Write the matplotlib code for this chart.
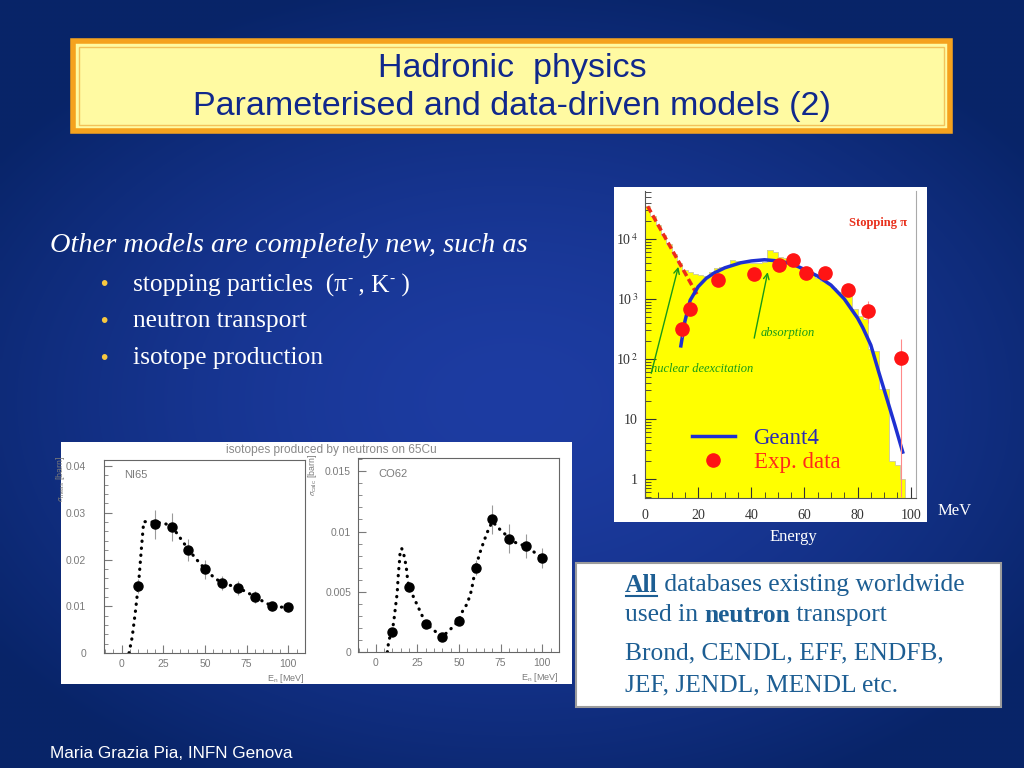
import numpy as np
import matplotlib
matplotlib.use('Agg')
import matplotlib.pyplot as plt
from matplotlib.patches import Rectangle
from matplotlib.ticker import MultipleLocator, LogLocator, NullFormatter, FuncFormatter

plt.rcParams['font.family'] = ['Liberation Sans', 'DejaVu Sans']
plt.rcParams['mathtext.fontset'] = 'stix'
SERIF = ['Liberation Serif', 'DejaVu Serif']

W, H = 1024, 768

# ---- stopping pi- : energy spectrum (log scale) ----
hist_edges = np.arange(0, 100, 2)
hist_counts = [35000, 24000, 17000, 11700, 8100, 5600, 3900, 3000, 2800, 2600,
               2500, 2400, 2800, 3300, 3400, 3600, 4500, 4300, 3900, 3900,
               4000, 4000, 4200, 6500, 6000, 5000, 4800, 4000, 3600, 3200,
               2700, 2500, 2200, 2000, 1800, 1500, 1300, 1200, 1100, 680,
               520, 460, 145, 135, 32, 32, 2, 1.7, 1]
deexc_x = [1, 20]
deexc_y = [35000, 1100]
g4_x = [13.5, 15, 17, 20, 23, 26, 30, 36, 40, 45, 50, 55, 60, 65, 70, 75, 80, 82, 85, 88, 91, 94, 97]
g4_y = [165, 420, 950, 1600, 2200, 2700, 3300, 4000, 4300, 4500, 4300, 3900, 3100, 2400, 1700,
        1000, 480, 330, 170, 60, 22, 8, 2.8]
exp_x = [13.8, 17.0, 27.3, 40.9, 50.6, 55.8, 60.6, 67.8, 76.4, 83.9, 96.5]
exp_y = [310, 670, 2100, 2600, 3700, 4500, 2700, 2700, 1400, 630, 105]
exp_lo = [230, 520, 1700, 2200, 3100, 3800, 2300, 2300, 1100, 400, 0.5]
exp_hi = [400, 850, 2600, 3100, 4400, 5300, 3200, 3200, 1800, 930, 215]

# ---- isotopes produced by neutrons on 65Cu ----
ni_x = [10, 20, 30, 40, 50, 60, 70, 80, 90, 100]
ni_y = [0.0143, 0.0275, 0.0269, 0.0220, 0.0179, 0.0149, 0.0139, 0.0120, 0.0100, 0.0098]
ni_err = [0.0015, 0.003, 0.003, 0.0024, 0.002, 0.0015, 0.0015, 0.0012, 0.001, 0.001]
ni_calc_x = [4.5, 6.4, 8.4, 10.4, 12, 13.3, 15, 20, 25, 30, 35, 40, 45, 50, 55, 60, 65, 70,
             75, 80, 85, 90, 95, 100]
ni_calc_y = [0, 0.0034, 0.0091, 0.0156, 0.0227, 0.0281, 0.0281, 0.028, 0.0278, 0.0272, 0.0247,
             0.0222, 0.02, 0.018, 0.0163, 0.015, 0.0145, 0.014, 0.013, 0.0121, 0.011, 0.0101,
             0.0098, 0.0099]

co_x = [10, 20, 30, 40, 50, 60, 70, 80, 90, 100]
co_y = [0.0017, 0.0054, 0.0023, 0.00125, 0.0026, 0.0070, 0.0110, 0.0094, 0.0088, 0.0078]
co_err = [0.0003, 0.0004, 0.0003, 0.0002, 0.0003, 0.0006, 0.0012, 0.0012, 0.001, 0.0008]
co_calc_x = [7.1, 8, 10, 11, 12.2, 13, 13.7, 14.3, 14.7, 15.7, 17.1, 18.4, 19, 20, 25, 30, 35,
             40, 45, 50, 52.5, 55, 57.5, 60, 62.5, 65, 67.5, 70, 72.5, 75, 77.5, 80, 85, 90,
             95, 100]
co_calc_y = [0, 0.001, 0.0017, 0.0026, 0.004, 0.0049, 0.0065, 0.0074, 0.0082, 0.0086, 0.008,
             0.0071, 0.0063, 0.0054, 0.0039, 0.0024, 0.0018, 0.00125, 0.0019, 0.0026, 0.0035,
             0.004, 0.0051, 0.007, 0.0082, 0.0092, 0.0101, 0.0108, 0.0105, 0.0101, 0.0098,
             0.0094, 0.009, 0.0088, 0.0083, 0.0078]

bullets = ['stopping particles  (\u03c0', 'neutron transport', 'isotope production']


def px(x0, y0, x1, y1):
    return [x0 / W, 1 - y1 / H, (x1 - x0) / W, (y1 - y0) / H]


fig = plt.figure(figsize=(W / 100, H / 100), dpi=100)
bg = fig.add_axes([0, 0, 1, 1])
bg.set_xlim(0, W)
bg.set_ylim(H, 0)
bg.axis('off')

# slide background: blue radial gradient
yy, xx = np.mgrid[0:H:4, 0:W:4]
r = np.clip(np.sqrt(((xx - 512) / 640) ** 2 + ((yy - 400) / 430) ** 2), 0, 1)
c_in = np.array([0x1d, 0x3c, 0xa2]) / 255
c_out = np.array([0x08, 0x24, 0x68]) / 255
bg.imshow(c_in + (c_out - c_in) * r[..., None] ** 1.6, extent=(0, W, H, 0),
          aspect='auto', interpolation='bilinear', zorder=0)

# title box
bg.add_patch(Rectangle((73, 41), 877, 90, facecolor='#fffaa2', edgecolor='#f5a21e', lw=4, zorder=2))
bg.add_patch(Rectangle((79, 47), 865, 78, fill=False, edgecolor='#f3c25a', lw=1, zorder=3))
bg.text(512, 69, 'Hadronic  physics', ha='center', va='center', fontsize=24.5, color='#10288c', zorder=4)
bg.text(512, 107, 'Parameterised and data-driven models (2)', ha='center', va='center',
        fontsize=24.5, color='#10288c', zorder=4)

renderer = fig.canvas.get_renderer()


def runs(x, y, parts, **kw):
    # write text pieces one after the other on the same line
    out = []
    for txt, opts in parts:
        o = dict(kw)
        o.update(opts)
        dy = o.pop('dy', 0)
        t = bg.text(x, y + dy, txt, **o)
        w = t.get_window_extent(renderer=renderer).width
        out.append((x, w))
        x += w
    return out


# left text
bg.text(50, 246, 'Other models are completely new, such as', family=SERIF, style='italic',
        fontsize=20.4, color='white', va='center')
for i, b in enumerate(bullets):
    y = 285 + i * 36.5
    bg.text(100, y, '\u2022', color='#f7c840', fontsize=15, va='center')
    if i == 0:
        runs(133, y, [(b, {}), ('-', {'fontsize': 11, 'dy': -6}), (' , K', {}),
                      ('-', {'fontsize': 11, 'dy': -6}), (' )', {})],
             family=SERIF, fontsize=18.3, color='white', va='center')
    else:
        bg.text(133, y, b, family=SERIF, fontsize=18.3, color='white', va='center')

# ---------------- stopping pi panel ----------------
bg.add_patch(Rectangle((614, 187), 313, 335, facecolor='white', zorder=2))
ax1 = fig.add_axes(px(645, 191, 916, 498))
ax1.stairs(hist_counts, hist_edges, fill=True, baseline=0.3, color='#ffff00', zorder=1)
ax1.stairs(hist_counts, hist_edges, baseline=0.3, color='#d0ce9e', lw=0.7, zorder=1.5)
ax1.plot(deexc_x, deexc_y, color='#ee2a1a', lw=2.5, ls=(0, (2, 1)), zorder=2)
g4_line, = ax1.plot(g4_x, g4_y, color='#1e30d2', lw=2.5, zorder=3)
ax1.vlines(exp_x, exp_lo, exp_hi, color='#ff8a8a', lw=0.8, zorder=3)
exp_pts, = ax1.plot(exp_x, exp_y, 'o', color='#ff1414', ms=9.5, zorder=4)
ax1.set_yscale('log')
ax1.set_xlim(0, 102)
ax1.set_ylim(0.48, 63000)
ax1.xaxis.set_major_locator(MultipleLocator(20))
ax1.xaxis.set_minor_locator(MultipleLocator(5))
ax1.set_yticks([1, 10, 100, 1000, 10000])
ax1.set_yticklabels(['1', '10', r'10$^{\,2}$', r'10$^{\,3}$', r'10$^{\,4}$'])
ax1.yaxis.set_minor_locator(LogLocator(base=10, subs=np.arange(2, 10)))
ax1.yaxis.set_minor_formatter(NullFormatter())
ax1.tick_params(which='both', direction='in', colors='#333333', labelsize=10, pad=5)
ax1.tick_params(which='major', length=8)
ax1.tick_params(which='minor', length=4)
ax1.tick_params(axis='x', pad=8)
for lab in ax1.get_xticklabels() + ax1.get_yticklabels():
    lab.set_family(SERIF)
ax1.spines['top'].set_visible(False)
ax1.spines['right'].set_color('#aaaaaa')
for s in ('left', 'bottom'):
    ax1.spines[s].set_color('#555555')
ax1.legend([g4_line, exp_pts], ['Geant4', 'Exp. data'], loc='lower left',
           bbox_to_anchor=(0.13, 0.045), frameon=False, numpoints=1, handlelength=1.9,
           labelcolor=['#2a2ab4', '#ff2a1a'], prop={'family': SERIF, 'size': 16.5},
           borderpad=0, labelspacing=0.1, handletextpad=0.8)
ax1.annotate('', xy=(12.8, 3800), xytext=(2.1, 52),
             arrowprops=dict(arrowstyle='->', color='#189a18', lw=1))
ax1.annotate('', xy=(46.4, 3100), xytext=(40.9, 200),
             arrowprops=dict(arrowstyle='->', color='#189a18', lw=1))
ax1.text(43.6, 275, 'absorption', family=SERIF, style='italic', fontsize=9, color='#189a18', va='center')
ax1.text(2.4, 69, 'nuclear deexcitation', family=SERIF, style='italic', fontsize=9,
         color='#189a18', va='center')
ax1.text(0.967, 0.896, 'Stopping \u03c0', transform=ax1.transAxes, family=SERIF, fontweight='bold',
         fontsize=9, color='#e8301c', ha='right', va='center')

bg.text(938, 511, 'MeV', family=SERIF, fontsize=12, color='white', va='center')
bg.text(793, 537, 'Energy', family=SERIF, fontsize=12, color='white', va='center', ha='center')

# ---------------- isotope production panels ----------------
bg.add_patch(Rectangle((61, 442), 511, 242, facecolor='white', zorder=2))
bg.text(331, 450, 'isotopes produced by neutrons on 65Cu', fontsize=8.6, color='#8a8a8a',
        ha='center', va='center', zorder=3)
GR = '#7a7a7a'


def iso_panel(ax, cx, cy, x, y, err, top, ymaj, ymin, name, ylabel, pad, ylab_x):
    ax.plot(cx, cy, color='black', lw=2.3, ls=(0, (0.1, 2.1)), dash_capstyle='round')
    ax.errorbar(x, y, yerr=err, fmt='o', color='black', ms=6.5, ecolor='#9a9a9a',
                elinewidth=0.8, capsize=0)
    ax.set_xlim(-10.5, 110)
    ax.set_ylim(0, top)
    ax.xaxis.set_major_locator(MultipleLocator(25))
    ax.xaxis.set_minor_locator(MultipleLocator(5))
    ax.yaxis.set_major_locator(MultipleLocator(ymaj))
    ax.yaxis.set_minor_locator(MultipleLocator(ymin))
    ax.yaxis.set_major_formatter(FuncFormatter(lambda v, p: '0' if v == 0 else f'{v:g}'))
    ax.tick_params(which='both', direction='in', colors=GR, labelsize=7.5)
    ax.tick_params(which='major', length=6)
    ax.tick_params(which='minor', length=3)
    ax.tick_params(axis='y', pad=pad)
    ax.tick_params(axis='x', pad=4)
    for s in ax.spines.values():
        s.set_color('#666666')
        s.set_linewidth(0.8)
    ax.text(0.1, 0.92, name, transform=ax.transAxes, fontsize=8, color=GR, va='center')
    ax.text(1.0, -0.13, r'E$_{\mathregular{n}}$ [MeV]', transform=ax.transAxes, fontsize=6.5,
            color=GR, ha='right', va='center')
    ax.text(ylab_x, 1.02, ylabel, transform=ax.transAxes, rotation=90,
            fontsize=6.3, color=GR, ha='center', va='top')


ax2 = fig.add_axes(px(104, 460, 305, 653))
iso_panel(ax2, ni_calc_x, ni_calc_y, ni_x, ni_y, ni_err, 0.0413, 0.01, 0.002, 'NI65',
          r'$\sigma_{\mathregular{meas}}$ [barn]', 13, -0.215)
bg.text(273, 481, 'Neutrons', family=SERIF, fontweight='bold', fontsize=8.5, color='#e3361a',
        ha='center', va='center', zorder=5)

ax3 = fig.add_axes(px(358, 458, 559, 652))
iso_panel(ax3, co_calc_x, co_calc_y, co_x, co_y, co_err, 0.0161, 0.005, 0.001, 'CO62',
          r'$\sigma_{\mathregular{calc}}$ [barn]', 5, -0.225)

# ---------------- databases box ----------------
bg.add_patch(Rectangle((576, 563), 425, 144, facecolor='white', edgecolor='#9c9c9c', lw=1.5, zorder=2))
TXT = dict(family=SERIF, fontsize=18.4, color='#1d5e93', va='center', zorder=4)
pieces = runs(625, 585, [('All', {'fontweight': 'bold'}), (' databases existing worldwide', {})], **TXT)
x0, w0 = pieces[0]
bg.plot([x0 + 1, x0 + w0 - 1], [596, 596], color='#1d5e93', lw=1.5, zorder=4)
runs(625, 615, [('used in ', {}), ('neutron', {'fontweight': 'bold'}), (' transport', {})], **TXT)
bg.text(625, 653, 'Brond, CENDL, EFF, ENDFB,', **TXT)
bg.text(625, 685, 'JEF, JENDL, MENDL etc.', **TXT)

bg.text(50, 754, 'Maria Grazia Pia, INFN Genova', fontsize=12.3, color='white', va='center')

fig.savefig('out.png', dpi=100)
